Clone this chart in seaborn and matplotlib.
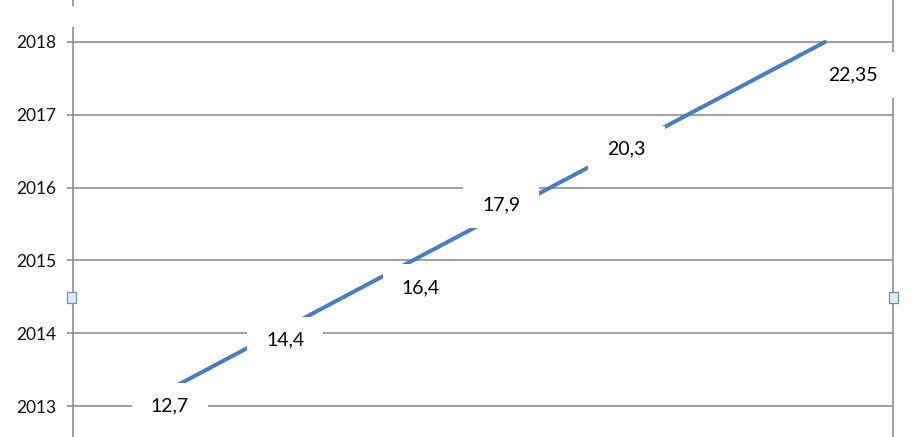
import pandas as pd
import seaborn as sns
import matplotlib.pyplot as plt
from matplotlib.patches import Rectangle
from matplotlib.transforms import IdentityTransform

# data
years = [2013, 2014, 2015, 2016, 2017, 2018]
values = [12.7, 14.4, 16.4, 17.9, 20.3, 22.35]
value_labels = ["12,7", "14,4", "16,4", "17,9", "20,3", "22,35"]

# label offsets (pixels, right / up) - hand placed like in the original
label_dx = [32, 10, 8, -49, -61, 28]
label_dy = [0, -7, -27, -17, -34, -33]

df = pd.DataFrame({"idx": range(len(years)), "year": years, "value": values})

sns.set_theme(style="white")
plt.rcParams['font.family'] = ['Lato', 'DejaVu Sans']

W, H = 916, 437
fig = plt.figure(figsize=(W / 100, H / 100), dpi=100)
ax = fig.add_axes([73 / W, 0, (893 - 73) / W, 1])

grid_col = "#868686"
sns.lineplot(data=df, x="idx", y="year", ax=ax, color="#4a7ebb",
             linewidth=2.9, legend=False, zorder=3)

ax.set_xlim(-0.473, 5.495)
ax.set_ylim(2013 - 31 / 72.8, 2018 + 42 / 72.8)
ax.set_yticks(years)
ax.set_yticklabels([str(y) for y in years])
ax.set_xticks([])
ax.set_xlabel("")
ax.set_ylabel("")
ax.yaxis.grid(True, color=grid_col, linewidth=1.1)
ax.set_axisbelow(True)
ax.tick_params(axis="y", left=True, length=4.3, width=1.1, color=grid_col,
               pad=8, labelsize=12.5, labelcolor="#111111")
for side in ["top", "bottom"]:
    ax.spines[side].set_visible(False)
for side in ["left", "right"]:
    ax.spines[side].set_visible(True)
    ax.spines[side].set_color(grid_col)
    ax.spines[side].set_linewidth(1.1)

# data labels
texts = []
for i, lab in enumerate(value_labels):
    t = ax.annotate(lab, xy=(df["idx"][i], df["year"][i]),
                    xytext=(label_dx[i], label_dy[i]), textcoords="offset pixels",
                    ha="center", va="center", fontsize=14, color="black",
                    zorder=6, annotation_clip=False)
    texts.append(t)

# white label boxes (wider than tall, like Excel)
fig.canvas.draw()
renderer = fig.canvas.get_renderer()
for t in texts:
    bb = t.get_window_extent(renderer)
    cx, cy = (bb.x0 + bb.x1) / 2, (bb.y0 + bb.y1) / 2
    bw, bh = bb.width + 38, 46
    box = Rectangle((cx - bw / 2, cy - bh / 2), bw, bh, transform=IdentityTransform(),
                    fc="white", ec="none", zorder=5, clip_on=False)
    ax.add_patch(box)

# small gap in the left axis line near the top
fig.add_artist(Rectangle((69 / W, 1 - 27 / H), 8 / W, 21 / H,
                         transform=fig.transFigure, fc="white", ec="none", zorder=10))

# selection handles
for hx in [67, 889]:
    fig.add_artist(Rectangle((hx / W, 1 - 303 / H), 9 / W, 11 / H,
                             transform=fig.transFigure, fc="#dcedf9",
                             ec="#6f8fab", lw=0.9, zorder=11))

plt.savefig("out.png", dpi=100)
